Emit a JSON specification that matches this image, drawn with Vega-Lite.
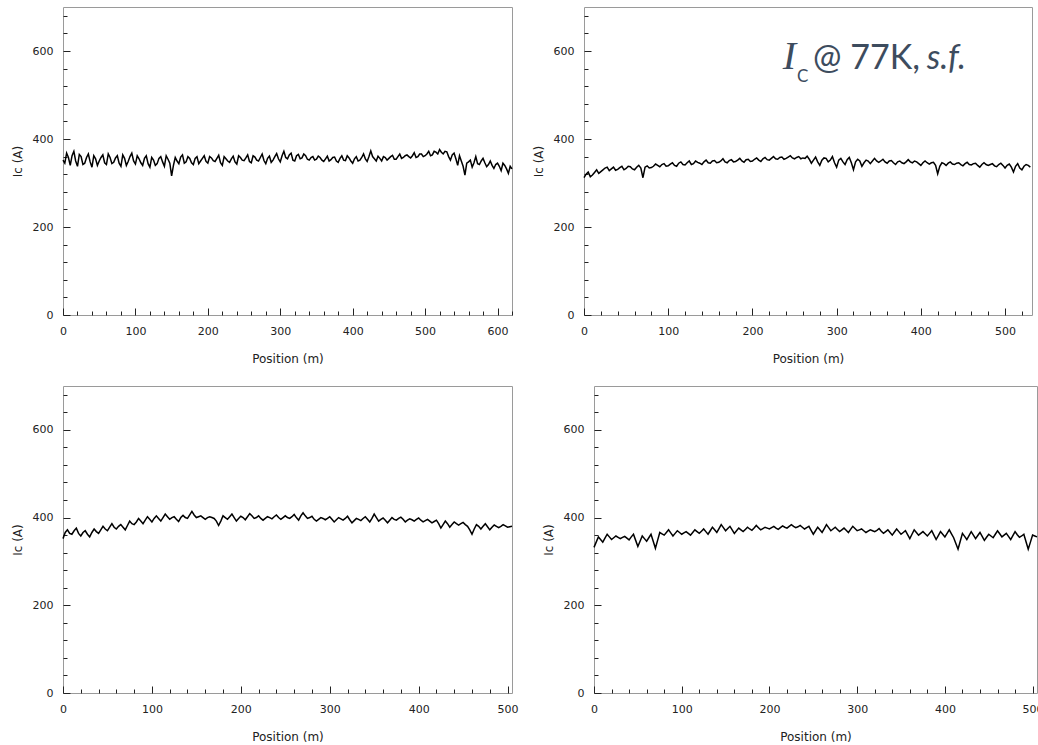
{
  "$schema": "https://vega.github.io/schema/vega-lite/v6.json",
  "padding": {"left": 10, "top": 6, "right": 0, "bottom": 0},
  "autosize": {"type": "pad"},
  "background": "white",
  "config": {
    "font": "DejaVu Sans",
    "view": {"stroke": "#9a9a9a", "strokeWidth": 1},
    "axis": {
      "domain": false, "grid": false,
      "tickColor": "#222", "labelColor": "#222", "titleColor": "#222",
      "labelFont": "DejaVu Sans", "labelFontSize": 11,
      "titleFont": "DejaVu Sans", "titleFontSize": 12, "titleFontWeight": "normal",
      "labelOverlap": false, "labelFlush": false
    },
    "axisX": {"labelPadding": 17, "titlePadding": 14},
    "axisY": {"labelPadding": 17, "titlePadding": 8}
  },
  "datasets": {
    "p1": [
      {"pos":0,"ic":352},{"pos":5,"ic":368},{"pos":10,"ic":340},{"pos":15,"ic":372},{"pos":20,"ic":338},{"pos":25,"ic":360},{"pos":30,"ic":345},{"pos":35,"ic":366},{"pos":40,"ic":336},{"pos":45,"ic":355},
      {"pos":50,"ic":350},{"pos":55,"ic":364},{"pos":60,"ic":342},{"pos":65,"ic":358},{"pos":70,"ic":347},{"pos":75,"ic":362},{"pos":80,"ic":338},{"pos":85,"ic":356},{"pos":90,"ic":349},{"pos":95,"ic":368},
      {"pos":100,"ic":343},{"pos":105,"ic":355},{"pos":110,"ic":340},{"pos":115,"ic":362},{"pos":120,"ic":336},{"pos":125,"ic":352},{"pos":130,"ic":344},{"pos":135,"ic":360},{"pos":140,"ic":338},{"pos":145,"ic":354},
      {"pos":150,"ic":316},{"pos":155,"ic":358},{"pos":160,"ic":344},{"pos":165,"ic":364},{"pos":170,"ic":348},{"pos":175,"ic":356},{"pos":180,"ic":342},{"pos":185,"ic":360},{"pos":190,"ic":350},{"pos":195,"ic":362},
      {"pos":200,"ic":345},{"pos":205,"ic":357},{"pos":210,"ic":349},{"pos":215,"ic":363},{"pos":220,"ic":340},{"pos":225,"ic":355},{"pos":230,"ic":347},{"pos":235,"ic":361},{"pos":240,"ic":343},{"pos":245,"ic":358},
      {"pos":250,"ic":351},{"pos":255,"ic":364},{"pos":260,"ic":346},{"pos":265,"ic":359},{"pos":270,"ic":350},{"pos":275,"ic":366},{"pos":280,"ic":344},{"pos":285,"ic":361},{"pos":290,"ic":352},{"pos":295,"ic":367},
      {"pos":300,"ic":348},{"pos":305,"ic":372},{"pos":310,"ic":355},{"pos":315,"ic":368},{"pos":320,"ic":350},{"pos":325,"ic":365},{"pos":330,"ic":357},{"pos":335,"ic":362},{"pos":340,"ic":352},{"pos":345,"ic":360},
      {"pos":350,"ic":354},{"pos":355,"ic":358},{"pos":360,"ic":349},{"pos":365,"ic":361},{"pos":370,"ic":353},{"pos":375,"ic":359},{"pos":380,"ic":347},{"pos":385,"ic":362},{"pos":390,"ic":351},{"pos":395,"ic":357},
      {"pos":400,"ic":345},{"pos":405,"ic":360},{"pos":410,"ic":352},{"pos":415,"ic":366},{"pos":420,"ic":349},{"pos":425,"ic":373},{"pos":430,"ic":355},{"pos":435,"ic":361},{"pos":440,"ic":350},{"pos":445,"ic":358},
      {"pos":450,"ic":356},{"pos":455,"ic":363},{"pos":460,"ic":354},{"pos":465,"ic":366},{"pos":470,"ic":358},{"pos":475,"ic":364},{"pos":480,"ic":357},{"pos":485,"ic":369},{"pos":490,"ic":360},{"pos":495,"ic":366},
      {"pos":500,"ic":362},{"pos":505,"ic":372},{"pos":510,"ic":364},{"pos":515,"ic":370},{"pos":520,"ic":376},{"pos":525,"ic":366},{"pos":530,"ic":371},{"pos":535,"ic":352},{"pos":540,"ic":368},{"pos":545,"ic":340},
      {"pos":550,"ic":350},{"pos":555,"ic":318},{"pos":560,"ic":348},{"pos":565,"ic":336},{"pos":570,"ic":360},{"pos":575,"ic":342},{"pos":580,"ic":356},{"pos":585,"ic":337},{"pos":590,"ic":350},{"pos":595,"ic":333},
      {"pos":600,"ic":345},{"pos":605,"ic":328},{"pos":610,"ic":340},{"pos":615,"ic":322},{"pos":620,"ic":332},
      {"pos":2.5,"ic":345},{"pos":7.5,"ic":358},{"pos":12.5,"ic":362},{"pos":17.5,"ic":350},{"pos":22.5,"ic":365},{"pos":27.5,"ic":342},{"pos":32.5,"ic":358},{"pos":37.5,"ic":348},{"pos":42.5,"ic":362},{"pos":47.5,"ic":340},
      {"pos":52.5,"ic":358},{"pos":57.5,"ic":346},{"pos":62.5,"ic":366},{"pos":67.5,"ic":344},{"pos":72.5,"ic":357},{"pos":77.5,"ic":345},{"pos":82.5,"ic":364},{"pos":87.5,"ic":340},{"pos":92.5,"ic":360},{"pos":97.5,"ic":350},
      {"pos":102.5,"ic":362},{"pos":107.5,"ic":346},{"pos":112.5,"ic":356},{"pos":117.5,"ic":344},{"pos":122.5,"ic":358},{"pos":127.5,"ic":340},{"pos":132.5,"ic":356},{"pos":137.5,"ic":348},{"pos":142.5,"ic":362},{"pos":147.5,"ic":345},
      {"pos":152.5,"ic":340},{"pos":157.5,"ic":350},{"pos":162.5,"ic":359},{"pos":167.5,"ic":345},{"pos":172.5,"ic":360},{"pos":177.5,"ic":346},{"pos":182.5,"ic":356},{"pos":187.5,"ic":344},{"pos":192.5,"ic":356},{"pos":197.5,"ic":349},
      {"pos":202.5,"ic":360},{"pos":207.5,"ic":351},{"pos":212.5,"ic":356},{"pos":217.5,"ic":346},{"pos":222.5,"ic":360},{"pos":227.5,"ic":350},{"pos":232.5,"ic":355},{"pos":237.5,"ic":348},{"pos":242.5,"ic":362},{"pos":247.5,"ic":352},
      {"pos":252.5,"ic":357},{"pos":257.5,"ic":349},{"pos":262.5,"ic":362},{"pos":267.5,"ic":352},{"pos":272.5,"ic":358},{"pos":277.5,"ic":351},{"pos":282.5,"ic":356},{"pos":287.5,"ic":347},{"pos":292.5,"ic":360},{"pos":297.5,"ic":355},
      {"pos":302.5,"ic":362},{"pos":307.5,"ic":358},{"pos":312.5,"ic":364},{"pos":317.5,"ic":352},{"pos":322.5,"ic":362},{"pos":327.5,"ic":355},{"pos":332.5,"ic":366},{"pos":337.5,"ic":354},{"pos":342.5,"ic":358},{"pos":347.5,"ic":352},
      {"pos":352.5,"ic":361},{"pos":357.5,"ic":352},{"pos":362.5,"ic":355},{"pos":367.5,"ic":350},{"pos":372.5,"ic":358},{"pos":377.5,"ic":350},{"pos":382.5,"ic":356},{"pos":387.5,"ic":352},{"pos":392.5,"ic":362},{"pos":397.5,"ic":350},
      {"pos":402.5,"ic":355},{"pos":407.5,"ic":350},{"pos":412.5,"ic":358},{"pos":417.5,"ic":355},{"pos":422.5,"ic":360},{"pos":427.5,"ic":360},{"pos":432.5,"ic":350},{"pos":437.5,"ic":356},{"pos":442.5,"ic":360},{"pos":447.5,"ic":352},
      {"pos":452.5,"ic":360},{"pos":457.5,"ic":354},{"pos":462.5,"ic":360},{"pos":467.5,"ic":356},{"pos":472.5,"ic":362},{"pos":477.5,"ic":360},{"pos":482.5,"ic":362},{"pos":487.5,"ic":358},{"pos":492.5,"ic":366},{"pos":497.5,"ic":360},
      {"pos":502.5,"ic":366},{"pos":507.5,"ic":362},{"pos":512.5,"ic":372},{"pos":517.5,"ic":366},{"pos":522.5,"ic":370},{"pos":527.5,"ic":372},{"pos":532.5,"ic":360},{"pos":537.5,"ic":364},{"pos":542.5,"ic":355},{"pos":547.5,"ic":362},
      {"pos":552.5,"ic":338},{"pos":557.5,"ic":345},{"pos":562.5,"ic":352},{"pos":567.5,"ic":346},{"pos":572.5,"ic":344},{"pos":577.5,"ic":350},{"pos":582.5,"ic":346},{"pos":587.5,"ic":342},{"pos":592.5,"ic":340},{"pos":597.5,"ic":342},
      {"pos":602.5,"ic":338},{"pos":607.5,"ic":345},{"pos":612.5,"ic":332},{"pos":617.5,"ic":338}
    ],
    "p2": [
      {"pos":0,"ic":312},{"pos":5,"ic":325},{"pos":10,"ic":318},{"pos":15,"ic":330},{"pos":20,"ic":326},{"pos":25,"ic":334},{"pos":30,"ic":328},{"pos":35,"ic":336},{"pos":40,"ic":331},{"pos":45,"ic":338},
      {"pos":50,"ic":333},{"pos":55,"ic":337},{"pos":60,"ic":330},{"pos":65,"ic":340},{"pos":70,"ic":312},{"pos":75,"ic":339},{"pos":80,"ic":335},{"pos":85,"ic":343},{"pos":90,"ic":337},{"pos":95,"ic":344},
      {"pos":100,"ic":339},{"pos":105,"ic":346},{"pos":110,"ic":338},{"pos":115,"ic":348},{"pos":120,"ic":341},{"pos":125,"ic":350},{"pos":130,"ic":344},{"pos":135,"ic":347},{"pos":140,"ic":342},{"pos":145,"ic":352},
      {"pos":150,"ic":345},{"pos":155,"ic":351},{"pos":160,"ic":347},{"pos":165,"ic":355},{"pos":170,"ic":346},{"pos":175,"ic":353},{"pos":180,"ic":349},{"pos":185,"ic":356},{"pos":190,"ic":347},{"pos":195,"ic":354},
      {"pos":200,"ic":350},{"pos":205,"ic":357},{"pos":210,"ic":349},{"pos":215,"ic":358},{"pos":220,"ic":352},{"pos":225,"ic":360},{"pos":230,"ic":354},{"pos":235,"ic":359},{"pos":240,"ic":356},{"pos":245,"ic":362},
      {"pos":250,"ic":355},{"pos":255,"ic":360},{"pos":260,"ic":357},{"pos":265,"ic":361},{"pos":270,"ic":345},{"pos":275,"ic":359},{"pos":280,"ic":340},{"pos":285,"ic":357},{"pos":290,"ic":348},{"pos":295,"ic":360},
      {"pos":300,"ic":336},{"pos":305,"ic":356},{"pos":310,"ic":342},{"pos":315,"ic":358},{"pos":320,"ic":330},{"pos":325,"ic":354},{"pos":330,"ic":338},{"pos":335,"ic":352},{"pos":340,"ic":344},{"pos":345,"ic":356},
      {"pos":350,"ic":347},{"pos":355,"ic":354},{"pos":360,"ic":345},{"pos":365,"ic":351},{"pos":370,"ic":342},{"pos":375,"ic":350},{"pos":380,"ic":344},{"pos":385,"ic":353},{"pos":390,"ic":346},{"pos":395,"ic":348},
      {"pos":400,"ic":340},{"pos":405,"ic":350},{"pos":410,"ic":343},{"pos":415,"ic":347},{"pos":420,"ic":321},{"pos":425,"ic":346},{"pos":430,"ic":340},{"pos":435,"ic":348},{"pos":440,"ic":342},{"pos":445,"ic":346},
      {"pos":450,"ic":339},{"pos":455,"ic":347},{"pos":460,"ic":341},{"pos":465,"ic":345},{"pos":470,"ic":336},{"pos":475,"ic":346},{"pos":480,"ic":340},{"pos":485,"ic":344},{"pos":490,"ic":337},{"pos":495,"ic":345},
      {"pos":500,"ic":334},{"pos":505,"ic":343},{"pos":510,"ic":325},{"pos":515,"ic":344},{"pos":520,"ic":330},{"pos":525,"ic":342},{"pos":530,"ic":336},
      {"pos":2.5,"ic":320},{"pos":7.5,"ic":314},{"pos":12.5,"ic":324},{"pos":17.5,"ic":322},{"pos":22.5,"ic":330},{"pos":27.5,"ic":336},{"pos":32.5,"ic":332},{"pos":37.5,"ic":329},{"pos":42.5,"ic":335},{"pos":47.5,"ic":330},
      {"pos":52.5,"ic":338},{"pos":57.5,"ic":332},{"pos":62.5,"ic":336},{"pos":67.5,"ic":334},{"pos":72.5,"ic":336},{"pos":77.5,"ic":334},{"pos":82.5,"ic":338},{"pos":87.5,"ic":340},{"pos":92.5,"ic":342},{"pos":97.5,"ic":338},
      {"pos":102.5,"ic":343},{"pos":107.5,"ic":340},{"pos":112.5,"ic":345},{"pos":117.5,"ic":342},{"pos":122.5,"ic":346},{"pos":127.5,"ic":342},{"pos":132.5,"ic":350},{"pos":137.5,"ic":345},{"pos":142.5,"ic":348},{"pos":147.5,"ic":346},
      {"pos":152.5,"ic":350},{"pos":157.5,"ic":346},{"pos":162.5,"ic":350},{"pos":167.5,"ic":348},{"pos":172.5,"ic":351},{"pos":177.5,"ic":348},{"pos":182.5,"ic":352},{"pos":187.5,"ic":350},{"pos":192.5,"ic":353},{"pos":197.5,"ic":349},
      {"pos":202.5,"ic":354},{"pos":207.5,"ic":352},{"pos":212.5,"ic":355},{"pos":217.5,"ic":353},{"pos":222.5,"ic":356},{"pos":227.5,"ic":355},{"pos":232.5,"ic":358},{"pos":237.5,"ic":354},{"pos":242.5,"ic":359},{"pos":247.5,"ic":357},
      {"pos":252.5,"ic":358},{"pos":257.5,"ic":355},{"pos":262.5,"ic":356},{"pos":267.5,"ic":354},{"pos":272.5,"ic":352},{"pos":277.5,"ic":348},{"pos":282.5,"ic":352},{"pos":287.5,"ic":356},{"pos":292.5,"ic":352},{"pos":297.5,"ic":346},
      {"pos":302.5,"ic":352},{"pos":307.5,"ic":348},{"pos":312.5,"ic":353},{"pos":317.5,"ic":346},{"pos":322.5,"ic":348},{"pos":327.5,"ic":350},{"pos":332.5,"ic":346},{"pos":337.5,"ic":350},{"pos":342.5,"ic":350},{"pos":347.5,"ic":350},
      {"pos":352.5,"ic":350},{"pos":357.5,"ic":348},{"pos":362.5,"ic":350},{"pos":367.5,"ic":346},{"pos":372.5,"ic":348},{"pos":377.5,"ic":346},{"pos":382.5,"ic":348},{"pos":387.5,"ic":348},{"pos":392.5,"ic":350},{"pos":397.5,"ic":344},
      {"pos":402.5,"ic":346},{"pos":407.5,"ic":346},{"pos":412.5,"ic":346},{"pos":417.5,"ic":340},{"pos":422.5,"ic":338},{"pos":427.5,"ic":344},{"pos":432.5,"ic":345},{"pos":437.5,"ic":343},{"pos":442.5,"ic":345},{"pos":447.5,"ic":342},
      {"pos":452.5,"ic":344},{"pos":457.5,"ic":342},{"pos":462.5,"ic":344},{"pos":467.5,"ic":340},{"pos":472.5,"ic":342},{"pos":477.5,"ic":342},{"pos":482.5,"ic":342},{"pos":487.5,"ic":339},{"pos":492.5,"ic":342},{"pos":497.5,"ic":340},
      {"pos":502.5,"ic":340},{"pos":507.5,"ic":336},{"pos":512.5,"ic":338},{"pos":517.5,"ic":334},{"pos":522.5,"ic":338},{"pos":527.5,"ic":340}
    ],
    "p3": [
      {"pos":0,"ic":352},{"pos":5,"ic":372},{"pos":10,"ic":362},{"pos":15,"ic":376},{"pos":20,"ic":358},{"pos":25,"ic":370},{"pos":30,"ic":356},{"pos":35,"ic":374},{"pos":40,"ic":364},{"pos":45,"ic":380},
      {"pos":50,"ic":370},{"pos":55,"ic":386},{"pos":60,"ic":374},{"pos":65,"ic":384},{"pos":70,"ic":372},{"pos":75,"ic":392},{"pos":80,"ic":384},{"pos":85,"ic":398},{"pos":90,"ic":386},{"pos":95,"ic":402},
      {"pos":100,"ic":390},{"pos":105,"ic":404},{"pos":110,"ic":392},{"pos":115,"ic":408},{"pos":120,"ic":396},{"pos":125,"ic":402},{"pos":130,"ic":391},{"pos":135,"ic":405},{"pos":140,"ic":398},{"pos":145,"ic":414},
      {"pos":150,"ic":400},{"pos":155,"ic":404},{"pos":160,"ic":396},{"pos":165,"ic":402},{"pos":170,"ic":398},{"pos":175,"ic":382},{"pos":180,"ic":404},{"pos":185,"ic":396},{"pos":190,"ic":408},{"pos":195,"ic":392},
      {"pos":200,"ic":403},{"pos":205,"ic":395},{"pos":210,"ic":409},{"pos":215,"ic":398},{"pos":220,"ic":404},{"pos":225,"ic":394},{"pos":230,"ic":402},{"pos":235,"ic":397},{"pos":240,"ic":406},{"pos":245,"ic":396},
      {"pos":250,"ic":404},{"pos":255,"ic":398},{"pos":260,"ic":407},{"pos":265,"ic":394},{"pos":270,"ic":411},{"pos":275,"ic":398},{"pos":280,"ic":403},{"pos":285,"ic":392},{"pos":290,"ic":400},{"pos":295,"ic":395},
      {"pos":300,"ic":402},{"pos":305,"ic":390},{"pos":310,"ic":400},{"pos":315,"ic":394},{"pos":320,"ic":403},{"pos":325,"ic":388},{"pos":330,"ic":398},{"pos":335,"ic":393},{"pos":340,"ic":402},{"pos":345,"ic":390},
      {"pos":350,"ic":408},{"pos":355,"ic":392},{"pos":360,"ic":399},{"pos":365,"ic":388},{"pos":370,"ic":400},{"pos":375,"ic":394},{"pos":380,"ic":401},{"pos":385,"ic":390},{"pos":390,"ic":397},{"pos":395,"ic":392},
      {"pos":400,"ic":399},{"pos":405,"ic":390},{"pos":410,"ic":396},{"pos":415,"ic":388},{"pos":420,"ic":394},{"pos":425,"ic":376},{"pos":430,"ic":392},{"pos":435,"ic":378},{"pos":440,"ic":390},{"pos":445,"ic":383},
      {"pos":450,"ic":389},{"pos":455,"ic":380},{"pos":460,"ic":362},{"pos":465,"ic":384},{"pos":470,"ic":374},{"pos":475,"ic":386},{"pos":480,"ic":372},{"pos":485,"ic":383},{"pos":490,"ic":377},{"pos":495,"ic":384},
      {"pos":500,"ic":378},{"pos":505,"ic":380},
      {"pos":2.5,"ic":366},{"pos":7.5,"ic":364},{"pos":12.5,"ic":370},{"pos":17.5,"ic":364},{"pos":22.5,"ic":366},{"pos":27.5,"ic":362},{"pos":32.5,"ic":366},{"pos":37.5,"ic":368},{"pos":42.5,"ic":372},{"pos":47.5,"ic":374},
      {"pos":52.5,"ic":378},{"pos":57.5,"ic":378},{"pos":62.5,"ic":380},{"pos":67.5,"ic":378},{"pos":72.5,"ic":382},{"pos":77.5,"ic":386},{"pos":82.5,"ic":390},{"pos":87.5,"ic":392},{"pos":92.5,"ic":394},{"pos":97.5,"ic":396},
      {"pos":102.5,"ic":398},{"pos":107.5,"ic":398},{"pos":112.5,"ic":400},{"pos":117.5,"ic":402},{"pos":122.5,"ic":400},{"pos":127.5,"ic":396},{"pos":132.5,"ic":400},{"pos":137.5,"ic":400},{"pos":142.5,"ic":406},{"pos":147.5,"ic":406},
      {"pos":152.5,"ic":402},{"pos":157.5,"ic":400},{"pos":162.5,"ic":400},{"pos":167.5,"ic":400},{"pos":172.5,"ic":392},{"pos":177.5,"ic":392},{"pos":182.5,"ic":400},{"pos":187.5,"ic":402},{"pos":192.5,"ic":400},{"pos":197.5,"ic":398},
      {"pos":202.5,"ic":400},{"pos":207.5,"ic":402},{"pos":212.5,"ic":404},{"pos":217.5,"ic":400},{"pos":222.5,"ic":398},{"pos":227.5,"ic":398},{"pos":232.5,"ic":400},{"pos":237.5,"ic":402},{"pos":242.5,"ic":400},{"pos":247.5,"ic":400},
      {"pos":252.5,"ic":400},{"pos":257.5,"ic":402},{"pos":262.5,"ic":400},{"pos":267.5,"ic":404},{"pos":272.5,"ic":404},{"pos":277.5,"ic":400},{"pos":282.5,"ic":396},{"pos":287.5,"ic":396},{"pos":292.5,"ic":398},{"pos":297.5,"ic":398},
      {"pos":302.5,"ic":396},{"pos":307.5,"ic":395},{"pos":312.5,"ic":397},{"pos":317.5,"ic":398},{"pos":322.5,"ic":395},{"pos":327.5,"ic":393},{"pos":332.5,"ic":396},{"pos":337.5,"ic":398},{"pos":342.5,"ic":396},{"pos":347.5,"ic":398},
      {"pos":352.5,"ic":400},{"pos":357.5,"ic":396},{"pos":362.5,"ic":394},{"pos":367.5,"ic":394},{"pos":372.5,"ic":396},{"pos":377.5,"ic":398},{"pos":382.5,"ic":396},{"pos":387.5,"ic":394},{"pos":392.5,"ic":395},{"pos":397.5,"ic":396},
      {"pos":402.5,"ic":394},{"pos":407.5,"ic":393},{"pos":412.5,"ic":392},{"pos":417.5,"ic":391},{"pos":422.5,"ic":386},{"pos":427.5,"ic":384},{"pos":432.5,"ic":386},{"pos":437.5,"ic":384},{"pos":442.5,"ic":386},{"pos":447.5,"ic":386},
      {"pos":452.5,"ic":384},{"pos":457.5,"ic":372},{"pos":462.5,"ic":374},{"pos":467.5,"ic":380},{"pos":472.5,"ic":380},{"pos":477.5,"ic":379},{"pos":482.5,"ic":378},{"pos":487.5,"ic":380},{"pos":492.5,"ic":380},{"pos":497.5,"ic":381},
      {"pos":502.5,"ic":379}
    ],
    "p4": [
      {"pos":0,"ic":332},{"pos":5,"ic":356},{"pos":10,"ic":344},{"pos":15,"ic":362},{"pos":20,"ic":350},{"pos":25,"ic":358},{"pos":30,"ic":352},{"pos":35,"ic":357},{"pos":40,"ic":349},{"pos":45,"ic":362},
      {"pos":50,"ic":334},{"pos":55,"ic":358},{"pos":60,"ic":346},{"pos":65,"ic":362},{"pos":70,"ic":330},{"pos":75,"ic":366},{"pos":80,"ic":360},{"pos":85,"ic":372},{"pos":90,"ic":358},{"pos":95,"ic":370},
      {"pos":100,"ic":362},{"pos":105,"ic":368},{"pos":110,"ic":360},{"pos":115,"ic":372},{"pos":120,"ic":364},{"pos":125,"ic":374},{"pos":130,"ic":362},{"pos":135,"ic":378},{"pos":140,"ic":366},{"pos":145,"ic":384},
      {"pos":150,"ic":370},{"pos":155,"ic":380},{"pos":160,"ic":364},{"pos":165,"ic":376},{"pos":170,"ic":368},{"pos":175,"ic":378},{"pos":180,"ic":371},{"pos":185,"ic":382},{"pos":190,"ic":372},{"pos":195,"ic":378},
      {"pos":200,"ic":374},{"pos":205,"ic":380},{"pos":210,"ic":373},{"pos":215,"ic":381},{"pos":220,"ic":376},{"pos":225,"ic":384},{"pos":230,"ic":377},{"pos":235,"ic":382},{"pos":240,"ic":374},{"pos":245,"ic":380},
      {"pos":250,"ic":362},{"pos":255,"ic":378},{"pos":260,"ic":366},{"pos":265,"ic":384},{"pos":270,"ic":370},{"pos":275,"ic":378},{"pos":280,"ic":368},{"pos":285,"ic":376},{"pos":290,"ic":366},{"pos":295,"ic":380},
      {"pos":300,"ic":370},{"pos":305,"ic":374},{"pos":310,"ic":366},{"pos":315,"ic":372},{"pos":320,"ic":368},{"pos":325,"ic":375},{"pos":330,"ic":364},{"pos":335,"ic":372},{"pos":340,"ic":360},{"pos":345,"ic":374},
      {"pos":350,"ic":362},{"pos":355,"ic":370},{"pos":360,"ic":352},{"pos":365,"ic":372},{"pos":370,"ic":360},{"pos":375,"ic":368},{"pos":380,"ic":358},{"pos":385,"ic":370},{"pos":390,"ic":350},{"pos":395,"ic":368},
      {"pos":400,"ic":356},{"pos":405,"ic":372},{"pos":410,"ic":354},{"pos":415,"ic":328},{"pos":420,"ic":364},{"pos":425,"ic":350},{"pos":430,"ic":368},{"pos":435,"ic":352},{"pos":440,"ic":366},{"pos":445,"ic":348},
      {"pos":450,"ic":362},{"pos":455,"ic":354},{"pos":460,"ic":370},{"pos":465,"ic":356},{"pos":470,"ic":364},{"pos":475,"ic":350},{"pos":480,"ic":368},{"pos":485,"ic":355},{"pos":490,"ic":362},{"pos":495,"ic":328},
      {"pos":500,"ic":360},{"pos":505,"ic":356},
      {"pos":2.5,"ic":344},{"pos":7.5,"ic":350},{"pos":12.5,"ic":353},{"pos":17.5,"ic":356},{"pos":22.5,"ic":354},{"pos":27.5,"ic":355},{"pos":32.5,"ic":355},{"pos":37.5,"ic":353},{"pos":42.5,"ic":356},{"pos":47.5,"ic":348},
      {"pos":52.5,"ic":346},{"pos":57.5,"ic":352},{"pos":62.5,"ic":354},{"pos":67.5,"ic":346},{"pos":72.5,"ic":348},{"pos":77.5,"ic":363},{"pos":82.5,"ic":366},{"pos":87.5,"ic":365},{"pos":92.5,"ic":364},{"pos":97.5,"ic":366},
      {"pos":102.5,"ic":365},{"pos":107.5,"ic":364},{"pos":112.5,"ic":366},{"pos":117.5,"ic":368},{"pos":122.5,"ic":369},{"pos":127.5,"ic":368},{"pos":132.5,"ic":370},{"pos":137.5,"ic":372},{"pos":142.5,"ic":375},{"pos":147.5,"ic":377},
      {"pos":152.5,"ic":375},{"pos":157.5,"ic":372},{"pos":162.5,"ic":370},{"pos":167.5,"ic":372},{"pos":172.5,"ic":373},{"pos":177.5,"ic":374},{"pos":182.5,"ic":376},{"pos":187.5,"ic":377},{"pos":192.5,"ic":375},{"pos":197.5,"ic":376},
      {"pos":202.5,"ic":377},{"pos":207.5,"ic":376},{"pos":212.5,"ic":377},{"pos":217.5,"ic":378},{"pos":222.5,"ic":380},{"pos":227.5,"ic":380},{"pos":232.5,"ic":379},{"pos":237.5,"ic":378},{"pos":242.5,"ic":377},{"pos":247.5,"ic":371},
      {"pos":252.5,"ic":370},{"pos":257.5,"ic":372},{"pos":262.5,"ic":375},{"pos":267.5,"ic":377},{"pos":272.5,"ic":374},{"pos":277.5,"ic":373},{"pos":282.5,"ic":372},{"pos":287.5,"ic":371},{"pos":292.5,"ic":373},{"pos":297.5,"ic":375},
      {"pos":302.5,"ic":372},{"pos":307.5,"ic":370},{"pos":312.5,"ic":369},{"pos":317.5,"ic":370},{"pos":322.5,"ic":371},{"pos":327.5,"ic":369},{"pos":332.5,"ic":368},{"pos":337.5,"ic":366},{"pos":342.5,"ic":367},{"pos":347.5,"ic":368},
      {"pos":352.5,"ic":366},{"pos":357.5,"ic":361},{"pos":362.5,"ic":362},{"pos":367.5,"ic":366},{"pos":372.5,"ic":364},{"pos":377.5,"ic":363},{"pos":382.5,"ic":364},{"pos":387.5,"ic":360},{"pos":392.5,"ic":359},{"pos":397.5,"ic":362},
      {"pos":402.5,"ic":364},{"pos":407.5,"ic":363},{"pos":412.5,"ic":341},{"pos":417.5,"ic":346},{"pos":422.5,"ic":357},{"pos":427.5,"ic":359},{"pos":432.5,"ic":360},{"pos":437.5,"ic":359},{"pos":442.5,"ic":357},{"pos":447.5,"ic":355},
      {"pos":452.5,"ic":358},{"pos":457.5,"ic":362},{"pos":462.5,"ic":363},{"pos":467.5,"ic":360},{"pos":472.5,"ic":357},{"pos":477.5,"ic":359},{"pos":482.5,"ic":361},{"pos":487.5,"ic":358},{"pos":492.5,"ic":345},{"pos":497.5,"ic":344},
      {"pos":502.5,"ic":358}
    ],
    "note": [{"part": "annotation"}]
  },
  "spacing": 20,
  "vconcat": [
    {
      "bounds": "flush",
      "spacing": 72,
      "hconcat": [
        {
          "width": 449, "height": 308,
          "data": {"name": "p1"},
          "mark": {"type": "line", "color": "#000", "strokeWidth": 1.5},
          "encoding": {
            "x": {"field": "pos", "type": "quantitative", "title": "Position (m)",
                  "scale": {"domain": [0, 620], "nice": false, "zero": false},
                  "axis": {"values": [0,20,40,60,80,100,120,140,160,180,200,220,240,260,280,300,320,340,360,380,400,420,440,460,480,500,520,540,560,580,600,620],
                           "labelExpr": "datum.value % 100 === 0 ? datum.label : ''",
                           "tickSize": {"condition": {"test": "datum.value % 100 === 0", "value": -7}, "value": -4}}},
            "y": {"field": "ic", "type": "quantitative", "title": "Ic (A)",
                  "scale": {"domain": [0, 700], "nice": false},
                  "axis": {"values": [0,40,80,120,160,200,240,280,320,360,400,440,480,520,560,600,640,680],
                           "labelExpr": "datum.value % 200 === 0 ? datum.label : ''",
                           "tickSize": {"condition": {"test": "datum.value % 200 === 0", "value": -7}, "value": -4}}}
          }
        },
        {
          "width": 448, "height": 308,
          "layer": [
            {
              "data": {"name": "p2"},
              "mark": {"type": "line", "color": "#000", "strokeWidth": 1.5},
              "encoding": {
                "x": {"field": "pos", "type": "quantitative", "title": "Position (m)",
                      "scale": {"domain": [0, 532], "nice": false, "zero": false},
                      "axis": {"values": [0,20,40,60,80,100,120,140,160,180,200,220,240,260,280,300,320,340,360,380,400,420,440,460,480,500,520],
                               "labelExpr": "datum.value % 100 === 0 ? datum.label : ''",
                               "tickSize": {"condition": {"test": "datum.value % 100 === 0", "value": -7}, "value": -4}}},
                "y": {"field": "ic", "type": "quantitative", "title": "Ic (A)",
                      "scale": {"domain": [0, 700], "nice": false},
                      "axis": {"values": [0,40,80,120,160,200,240,280,320,360,400,440,480,520,560,600,640,680],
                               "labelExpr": "datum.value % 200 === 0 ? datum.label : ''",
                               "tickSize": {"condition": {"test": "datum.value % 200 === 0", "value": -7}, "value": -4}}}
              }
            },
            {
              "data": {"name": "note"},
              "mark": {"type": "text", "font": "Liberation Serif", "fontStyle": "italic", "fontSize": 40, "color": "#3d4c5e", "align": "left", "baseline": "alphabetic"},
              "encoding": {
                "x": {"datum": 236, "type": "quantitative", "title": "Position (m)",
                      "scale": {"domain": [0, 532], "nice": false, "zero": false},
                      "axis": {"values": [0,20,40,60,80,100,120,140,160,180,200,220,240,260,280,300,320,340,360,380,400,420,440,460,480,500,520],
                               "labelExpr": "datum.value % 100 === 0 ? datum.label : ''",
                               "tickSize": {"condition": {"test": "datum.value % 100 === 0", "value": -7}, "value": -4}}},
                "y": {"datum": 559, "type": "quantitative", "title": "Ic (A)",
                      "scale": {"domain": [0, 700], "nice": false},
                      "axis": {"values": [0,40,80,120,160,200,240,280,320,360,400,440,480,520,560,600,640,680],
                               "labelExpr": "datum.value % 200 === 0 ? datum.label : ''",
                               "tickSize": {"condition": {"test": "datum.value % 200 === 0", "value": -7}, "value": -4}}},
                "text": {"value": "I"}
              }
            },
            {
              "data": {"name": "note"},
              "mark": {"type": "text", "font": "Lato", "fontSize": 17, "color": "#3d4c5e", "align": "left", "baseline": "alphabetic"},
              "encoding": {
                "x": {"datum": 253, "type": "quantitative", "title": "Position (m)",
                      "scale": {"domain": [0, 532], "nice": false, "zero": false},
                      "axis": {"values": [0,20,40,60,80,100,120,140,160,180,200,220,240,260,280,300,320,340,360,380,400,420,440,460,480,500,520],
                               "labelExpr": "datum.value % 100 === 0 ? datum.label : ''",
                               "tickSize": {"condition": {"test": "datum.value % 100 === 0", "value": -7}, "value": -4}}},
                "y": {"datum": 530, "type": "quantitative", "title": "Ic (A)",
                      "scale": {"domain": [0, 700], "nice": false},
                      "axis": {"values": [0,40,80,120,160,200,240,280,320,360,400,440,480,520,560,600,640,680],
                               "labelExpr": "datum.value % 200 === 0 ? datum.label : ''",
                               "tickSize": {"condition": {"test": "datum.value % 200 === 0", "value": -7}, "value": -4}}},
                "text": {"value": "C"}
              }
            },
            {
              "data": {"name": "note"},
              "mark": {"type": "text", "font": "Lato", "fontSize": 34, "color": "#3d4c5e", "align": "left", "baseline": "alphabetic"},
              "encoding": {
                "x": {"datum": 272, "type": "quantitative", "title": "Position (m)",
                      "scale": {"domain": [0, 532], "nice": false, "zero": false},
                      "axis": {"values": [0,20,40,60,80,100,120,140,160,180,200,220,240,260,280,300,320,340,360,380,400,420,440,460,480,500,520],
                               "labelExpr": "datum.value % 100 === 0 ? datum.label : ''",
                               "tickSize": {"condition": {"test": "datum.value % 100 === 0", "value": -7}, "value": -4}}},
                "y": {"datum": 560, "type": "quantitative", "title": "Ic (A)",
                      "scale": {"domain": [0, 700], "nice": false},
                      "axis": {"values": [0,40,80,120,160,200,240,280,320,360,400,440,480,520,560,600,640,680],
                               "labelExpr": "datum.value % 200 === 0 ? datum.label : ''",
                               "tickSize": {"condition": {"test": "datum.value % 200 === 0", "value": -7}, "value": -4}}},
                "text": {"value": "@ 77K,"}
              }
            },
            {
              "data": {"name": "note"},
              "mark": {"type": "text", "font": "Lato", "fontStyle": "italic", "fontSize": 34, "color": "#3d4c5e", "align": "left", "baseline": "alphabetic"},
              "encoding": {
                "x": {"datum": 407, "type": "quantitative", "title": "Position (m)",
                      "scale": {"domain": [0, 532], "nice": false, "zero": false},
                      "axis": {"values": [0,20,40,60,80,100,120,140,160,180,200,220,240,260,280,300,320,340,360,380,400,420,440,460,480,500,520],
                               "labelExpr": "datum.value % 100 === 0 ? datum.label : ''",
                               "tickSize": {"condition": {"test": "datum.value % 100 === 0", "value": -7}, "value": -4}}},
                "y": {"datum": 560, "type": "quantitative", "title": "Ic (A)",
                      "scale": {"domain": [0, 700], "nice": false},
                      "axis": {"values": [0,40,80,120,160,200,240,280,320,360,400,440,480,520,560,600,640,680],
                               "labelExpr": "datum.value % 200 === 0 ? datum.label : ''",
                               "tickSize": {"condition": {"test": "datum.value % 200 === 0", "value": -7}, "value": -4}}},
                "text": {"value": "s.f."}
              }
            }
          ]
        }
      ]
    },
    {
      "bounds": "flush",
      "spacing": 82,
      "hconcat": [
        {
          "width": 449, "height": 307,
          "data": {"name": "p3"},
          "mark": {"type": "line", "color": "#000", "strokeWidth": 1.5},
          "encoding": {
            "x": {"field": "pos", "type": "quantitative", "title": "Position (m)",
                  "scale": {"domain": [0, 505], "nice": false, "zero": false},
                  "axis": {"values": [0,20,40,60,80,100,120,140,160,180,200,220,240,260,280,300,320,340,360,380,400,420,440,460,480,500],
                           "labelExpr": "datum.value % 100 === 0 ? datum.label : ''",
                           "tickSize": {"condition": {"test": "datum.value % 100 === 0", "value": -7}, "value": -4}}},
            "y": {"field": "ic", "type": "quantitative", "title": "Ic (A)",
                  "scale": {"domain": [0, 700], "nice": false},
                  "axis": {"values": [0,40,80,120,160,200,240,280,320,360,400,440,480,520,560,600,640,680],
                           "labelExpr": "datum.value % 200 === 0 ? datum.label : ''",
                           "tickSize": {"condition": {"test": "datum.value % 200 === 0", "value": -7}, "value": -4}}}
          }
        },
        {
          "width": 443, "height": 307,
          "data": {"name": "p4"},
          "mark": {"type": "line", "color": "#000", "strokeWidth": 1.5},
          "encoding": {
            "x": {"field": "pos", "type": "quantitative", "title": "Position (m)",
                  "scale": {"domain": [0, 505], "nice": false, "zero": false},
                  "axis": {"values": [0,20,40,60,80,100,120,140,160,180,200,220,240,260,280,300,320,340,360,380,400,420,440,460,480,500],
                           "labelExpr": "datum.value % 100 === 0 ? datum.label : ''",
                           "tickSize": {"condition": {"test": "datum.value % 100 === 0", "value": -7}, "value": -4}}},
            "y": {"field": "ic", "type": "quantitative", "title": "Ic (A)",
                  "scale": {"domain": [0, 700], "nice": false},
                  "axis": {"values": [0,40,80,120,160,200,240,280,320,360,400,440,480,520,560,600,640,680],
                           "labelExpr": "datum.value % 200 === 0 ? datum.label : ''",
                           "tickSize": {"condition": {"test": "datum.value % 200 === 0", "value": -7}, "value": -4}}}
          }
        }
      ]
    }
  ]
}
